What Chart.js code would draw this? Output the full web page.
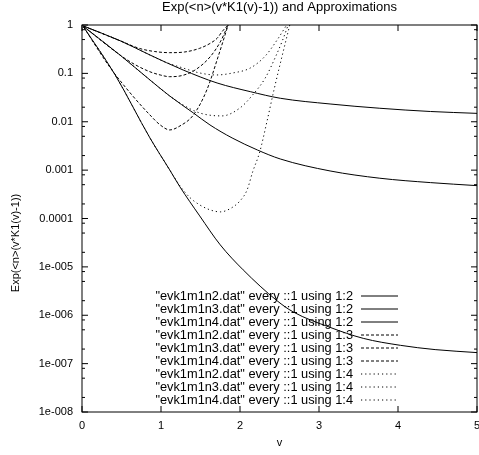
<!DOCTYPE html>
<html>
<head>
<meta charset="utf-8">
<script src="https://cdn.jsdelivr.net/npm/chart.js@4/dist/chart.umd.min.js"></script>
<style>
html, body { margin: 0; padding: 0; background: #fff; }
canvas { display: block; }
</style>
</head>
<body>
<canvas id="chart" width="479" height="455"></canvas>
<script>
const titleText = 'Exp(<n>(v*K1(v)-1)) and Approximations'
const xTitle = 'v'
const yTitle = 'Exp(<n>(v*K1(v)-1))'

const xTicks = [0, 1, 2, 3, 4, 5]
const yTicks = [1, 0.1, 0.01, 0.001, 0.0001, 1e-5, 1e-6, 1e-7, 1e-8]
const yTickLabels = ['1', '0.1', '0.01', '0.001', '0.0001', '1e-005', '1e-006', '1e-007', '1e-008']
const yMinor = [2, 5, 8]

const names = [
  '"evk1m1n2.dat" every ::1 using 1:2',
  '"evk1m1n3.dat" every ::1 using 1:2',
  '"evk1m1n4.dat" every ::1 using 1:2',
  '"evk1m1n2.dat" every ::1 using 1:3',
  '"evk1m1n3.dat" every ::1 using 1:3',
  '"evk1m1n4.dat" every ::1 using 1:3',
  '"evk1m1n2.dat" every ::1 using 1:4',
  '"evk1m1n3.dat" every ::1 using 1:4',
  '"evk1m1n4.dat" every ::1 using 1:4'
]

// column 2: exact curves
const v_n2_c2 = [0.02, 0.49, 0.86, 1.28, 1.71, 2.13, 2.51, 3.14, 3.77, 4.41, 5.0]
const y_n2_c2 = [0.95, 0.467, 0.240, 0.1175, 0.0633, 0.0419, 0.0306, 0.0233, 0.0190, 0.0163, 0.0149]

const v_n3_c2 = [0.02, 0.48, 0.86, 1.11, 1.41, 1.62, 1.90, 2.22, 2.51, 3.14, 3.77, 4.41, 5.0]
const y_n3_c2 = [0.93, 0.240, 0.0731, 0.0341, 0.0152, 0.00859, 0.00463, 0.00261, 0.00170, 0.000962, 0.000680, 0.000552, 0.000478]

const v_n4_c2 = [0.02, 0.42, 0.86, 1.11, 1.24, 1.49, 1.75, 2.04, 2.47, 2.67, 3.14, 3.56, 4.03, 4.47, 5.0]
const y_n4_c2 = [0.91, 0.0927, 0.00463, 0.00101, 0.00045, 0.000113, 2.85e-5, 8.67e-6, 1.99e-6, 1.18e-6, 5.62e-7, 3.33e-7, 2.39e-7, 1.95e-7, 1.69e-7]

// column 3: first approximation (dashed)
const v_n2_c3 = [0.02, 0.49, 0.73, 0.92, 1.11, 1.30, 1.49, 1.62, 1.71, 1.78, 1.85]
const y_n2_c3 = [0.95, 0.467, 0.327, 0.283, 0.268, 0.277, 0.330, 0.415, 0.531, 0.752, 1.0]

const v_n3_c3 = [0.02, 0.48, 0.67, 0.86, 0.99, 1.11, 1.27, 1.43, 1.62, 1.75, 1.85]
const y_n3_c3 = [0.93, 0.240, 0.152, 0.108, 0.0927, 0.0854, 0.0905, 0.117, 0.218, 0.446, 1.0]

const v_n4_c3 = [0.02, 0.35, 0.61, 0.86, 0.99, 1.11, 1.24, 1.41, 1.58, 1.73, 1.85]
const y_n4_c3 = [0.91, 0.136, 0.0394, 0.0138, 0.00859, 0.00677, 0.00819, 0.0138, 0.0454, 0.240, 1.0]

// column 4: second approximation (dotted)
const v_n2_c4 = [0.02, 0.49, 0.86, 1.05, 1.28, 1.49, 1.70, 1.91, 2.13, 2.32, 2.47, 2.59]
const y_n2_c4 = [0.95, 0.467, 0.240, 0.172, 0.129, 0.102, 0.0927, 0.102, 0.129, 0.229, 0.490, 1.0]

const v_n3_c4 = [0.02, 0.48, 0.86, 1.11, 1.24, 1.49, 1.77, 2.00, 2.16, 2.32, 2.46, 2.54, 2.61]
const y_n3_c4 = [0.93, 0.240, 0.0731, 0.0341, 0.0243, 0.0152, 0.0132, 0.0193, 0.0358, 0.0804, 0.240, 0.490, 1.0]

const v_n4_c4 = [0.02, 0.42, 0.86, 1.11, 1.24, 1.37, 1.49, 1.62, 1.75, 1.87, 2.00, 2.09, 2.16, 2.25, 2.34, 2.43, 2.53, 2.63]
const y_n4_c4 = [0.91, 0.0927, 0.00463, 0.00101, 0.000472, 0.000267, 0.000191, 0.000151, 0.000137, 0.000158, 0.000231, 0.000390, 0.000918, 0.00238, 0.00991, 0.0454, 0.218, 1.0]

const series = [
  [v_n2_c2, y_n2_c2], [v_n3_c2, y_n3_c2], [v_n4_c2, y_n4_c2],
  [v_n2_c3, y_n2_c3], [v_n3_c3, y_n3_c3], [v_n4_c3, y_n4_c3],
  [v_n2_c4, y_n2_c4], [v_n3_c4, y_n3_c4], [v_n4_c4, y_n4_c4]
]
const dashes = [[], [], [], [3, 2], [3, 2], [3, 2], [1.2, 3], [1.2, 3], [1.2, 3]]

const font = '"Liberation Sans", Arial, sans-serif'
Chart.defaults.font.family = font
Chart.defaults.color = '#000'

const datasets = series.map((s, i) => ({
  label: names[i],
  data: s[0].map((v, j) => ({x: v, y: s[1][j]})),
  borderColor: '#000',
  borderWidth: 1,
  borderDash: dashes[i],
  pointRadius: 0,
  fill: false,
  cubicInterpolationMode: 'monotone'
}))

// gnuplot style border with inside ticks
const frame = {
  id: 'frame',
  afterDatasetsDraw(chart) {
    const {ctx, chartArea: a, scales: {x, y}} = chart
    ctx.save()
    ctx.strokeStyle = '#000'
    ctx.lineWidth = 1
    ctx.setLineDash([])
    ctx.strokeRect(a.left, a.top, a.right - a.left, a.bottom - a.top)
    ctx.beginPath()
    xTicks.forEach(t => {
      const px = x.getPixelForValue(t)
      ctx.moveTo(px, a.bottom); ctx.lineTo(px, a.bottom - 6)
      ctx.moveTo(px, a.top); ctx.lineTo(px, a.top + 6)
    })
    yTicks.forEach(t => {
      const py = y.getPixelForValue(t)
      ctx.moveTo(a.left, py); ctx.lineTo(a.left + 6, py)
      ctx.moveTo(a.right, py); ctx.lineTo(a.right - 6, py)
    })
    yTicks.slice(1).forEach(t => {
      yMinor.forEach(m => {
        const py = y.getPixelForValue(t * m)
        ctx.moveTo(a.left, py); ctx.lineTo(a.left + 3, py)
        ctx.moveTo(a.right, py); ctx.lineTo(a.right - 3, py)
      })
    })
    ctx.stroke()
    ctx.restore()
  }
}

// key at lower middle, text right aligned, sample on the right
const key = {
  id: 'key',
  afterDatasetsDraw(chart) {
    const ctx = chart.ctx
    ctx.save()
    ctx.font = '12.8px ' + font
    ctx.fillStyle = '#000'
    ctx.textAlign = 'right'
    ctx.textBaseline = 'middle'
    chart.data.datasets.forEach((ds, i) => {
      const yy = 296 + i * 13
      ctx.fillText(ds.label, 353, yy)
      ctx.strokeStyle = '#000'
      ctx.lineWidth = 1
      ctx.setLineDash(ds.borderDash)
      ctx.beginPath()
      ctx.moveTo(361, yy)
      ctx.lineTo(398, yy)
      ctx.stroke()
    })
    ctx.restore()
  }
}

const ylabel = {
  id: 'ylabel',
  afterDraw(chart) {
    const ctx = chart.ctx
    ctx.save()
    ctx.font = '11px ' + font
    ctx.fillStyle = '#000'
    ctx.textAlign = 'center'
    ctx.textBaseline = 'middle'
    ctx.translate(16, 243)
    ctx.rotate(-Math.PI / 2)
    ctx.fillText(yTitle, 0, 0)
    ctx.restore()
  }
}

new Chart(document.getElementById('chart'), {
  type: 'line',
  data: {datasets},
  options: {
    responsive: false,
    animation: false,
    devicePixelRatio: 1,
    layout: {padding: {left: 0, right: 2, top: 0, bottom: 0}},
    plugins: {
      legend: {display: false},
      tooltip: {enabled: false},
      title: {
        display: true,
        fullSize: false,
        text: titleText,
        font: {size: 13, weight: 'normal'},
        color: '#000',
        padding: {top: 0, bottom: 9.4}
      }
    },
    scales: {
      x: {
        type: 'linear',
        min: 0,
        max: 5,
        grid: {display: false, drawTicks: false},
        border: {display: false},
        ticks: {stepSize: 1, font: {size: 11}, padding: 7, color: '#000'},
        title: {display: true, text: xTitle, font: {size: 11}, padding: {top: 0, bottom: 5}, color: '#000'},
        afterBuildTicks: s => { s.ticks = xTicks.map(v => ({value: v})) },
        afterFit: s => { s.height = 43; s.paddingLeft = 0; s.paddingRight = 0 }
      },
      y: {
        type: 'logarithmic',
        min: 1e-8,
        max: 1,
        grid: {display: false, drawTicks: false},
        border: {display: false},
        ticks: {
          font: {size: 11},
          padding: 9,
          color: '#000',
          callback: (v) => {
            const k = yTicks.findIndex(t => Math.abs(Math.log10(t) - Math.log10(v)) < 1e-6)
            return k >= 0 ? yTickLabels[k] : ''
          }
        },
        afterBuildTicks: s => { s.ticks = yTicks.map(v => ({value: v})) },
        afterFit: s => { s.width = 82; s.paddingTop = 0; s.paddingBottom = 0 }
      }
    }
  },
  plugins: [frame, key, ylabel]
})
</script>
</body>
</html>
